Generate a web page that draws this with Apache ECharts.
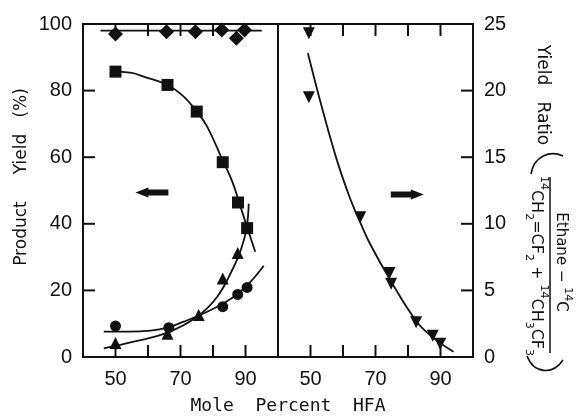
<!DOCTYPE html>
<html>
<head>
<meta charset="utf-8">
<script src="https://cdn.jsdelivr.net/npm/echarts@6/dist/echarts.min.js"></script>
<style>
  html, body { margin: 0; padding: 0; background: #fff; }
  #chart { width: 577px; height: 416px; }
</style>
</head>
<body>
<div id="chart"></div>
<script>
// Left panel: product yield (%) against mole percent HFA
const totalYield = [[50, 97], [65.7, 97.7], [74.6, 97.7], [82.7, 98.2], [87.2, 95.7], [89.7, 98.2]];
const totalYieldLine = [[45.4, 98], [95, 98]];
const squareYield = [[50, 85.7], [66, 81.7], [75, 73.7], [83, 58.5], [87.7, 46.4], [90.5, 38.7]];
const squareCurve = [[48.5, 85.8], [55, 85.3], [58.7, 84.2], [66, 81.7], [71, 78.2], [75, 73.7],
  [78.2, 69.2], [83, 59], [86, 52.5], [88.5, 45], [91, 37.5], [93, 31.6]];
const triangleYield = [[50, 4.2], [66, 7], [75.6, 12.6], [83, 23.6], [87.6, 31.2]];
const triangleCurve = [[46.4, 2.6], [55.6, 4.6], [65.9, 7.3], [75.1, 12.1], [81.3, 18.1],
  [86.4, 27.1], [88.5, 32], [90.3, 38.5], [91, 46]];
const circleYield = [[50, 9.3], [66.4, 8.8], [83, 15.1], [87.6, 18.8], [90.5, 20.9]];
const circleCurve = [[46.4, 7.6], [54, 7.6], [60.8, 7.9], [66, 8.8], [71, 10.6], [76, 12.6],
  [81.3, 15.1], [86.4, 18.1], [91, 22], [95.6, 27.4]];

// Right panel: yield ratio against mole percent HFA
const ratioPoints = [[49.5, 24.3], [49.5, 19.5], [65.3, 10.5], [74.3, 6.3], [74.8, 5.5],
  [82.5, 2.6], [87.6, 1.6], [89.9, 1.0]];
const ratioCurve = [[49.2, 22.8], [52.9, 19.3], [58.1, 14.8], [62.2, 11.9], [65.5, 10.0],
  [68.3, 8.5], [74.5, 5.8], [82.7, 2.65], [88, 1.4], [94, 0.4]];

// Axis ticks and tick labels
const xTickLabels = [50, 70, 90];
const xTickMarks = [50, 60, 70, 80, 90];
const leftYTicks = [0, 20, 40, 60, 80, 100];
const leftYTickMarks = [20, 40, 60, 80];
const rightYTicks = [0, 5, 10, 15, 20, 25];
const rightYTickMarks = [5, 10, 15, 20];

// Direction arrows (which axis each panel reads from)
const leftArrowAt = [61.2, 49.4];
const rightArrowAt = [79.8, 12.2];

const INK = '#111';
const LABEL_FONT = 'Liberation Sans, Arial, sans-serif';
const TICK_PX = 12;
const PANEL_W = 195, PANEL_H = 333;

function xAxisDef(grid, pos, showLabels) {
  return {
    type: 'value', gridIndex: grid, position: pos,
    min: 40, max: 100, interval: 10,
    axisLine: { show: true, lineStyle: { color: INK, width: 2 } },
    splitLine: { show: false },
    axisTick: { show: false },
    axisLabel: {
      show: showLabels, margin: 12, color: INK, fontSize: 20, fontFamily: LABEL_FONT,
      formatter: v => (xTickLabels.indexOf(v) >= 0 ? String(v) : '')
    }
  };
}

function yAxisDef(grid, pos, max, step, ticks) {
  return {
    type: 'value', gridIndex: grid, position: pos,
    min: 0, max: max, interval: step,
    axisLine: { show: true, lineStyle: { color: INK, width: 2 } },
    splitLine: { show: false },
    axisTick: { show: false },
    axisLabel: {
      margin: 11, color: INK, fontSize: 20, fontFamily: LABEL_FONT,
      formatter: v => (ticks.indexOf(v) >= 0 ? String(v) : '')
    }
  };
}

// Inward frame ticks: thin bars anchored on the frame and shifted half a length inside
function tickSeries(xi, yi, data, vertical, offset) {
  return {
    type: 'scatter', xAxisIndex: xi, yAxisIndex: yi, data: data,
    symbol: 'rect', symbolSize: vertical ? [2, TICK_PX] : [TICK_PX, 2],
    symbolOffset: offset, clip: false, silent: true,
    emphasis: { disabled: true },
    itemStyle: { color: INK, opacity: 1 }, z: 1
  };
}

function curve(data, xi, yi, extra) {
  return Object.assign({
    type: 'line', data: data, xAxisIndex: xi, yAxisIndex: yi,
    smooth: 0.4, showSymbol: false, symbol: 'none',
    lineStyle: { color: INK, width: 1.8, opacity: 1 }
  }, extra || {});
}

function points(data, xi, yi, symbol, size, rotate) {
  return {
    type: 'scatter', data: data, xAxisIndex: xi, yAxisIndex: yi,
    symbol: symbol, symbolSize: size, symbolRotate: rotate || 0,
    itemStyle: { color: INK, opacity: 1 }
  };
}

const arrowLeftPath = 'path://M0,5 L13,0 L13,2 L33,2 L33,8 L13,8 L13,10 Z';
const arrowRightPath = 'path://M33,5 L20,0 L20,2 L0,2 L0,8 L20,8 L20,10 Z';

const sup = { fontSize: 11, lineHeight: 11, verticalAlign: 'top', fontFamily: 'DejaVu Sans', fill: INK };
const sub = { fontSize: 11, lineHeight: 11, verticalAlign: 'bottom', fontFamily: 'DejaVu Sans', fill: INK };

const half = TICK_PX / 2;

const chart = echarts.init(document.getElementById('chart'));
chart.setOption({
  animation: false,
  backgroundColor: '#fff',
  grid: [
    { left: 83, top: 24, width: PANEL_W, height: PANEL_H, show: true, borderColor: INK, borderWidth: 2 },
    { left: 278, top: 24, width: PANEL_W, height: PANEL_H, show: true, borderColor: INK, borderWidth: 2 }
  ],
  xAxis: [
    xAxisDef(0, 'bottom', true),
    xAxisDef(0, 'top', false),
    xAxisDef(1, 'bottom', true),
    xAxisDef(1, 'top', false)
  ],
  yAxis: [
    yAxisDef(0, 'left', 100, 20, leftYTicks),
    yAxisDef(1, 'right', 25, 5, rightYTicks)
  ],
  series: [
    // frame ticks, left panel
    tickSeries(0, 0, xTickMarks.map(x => [x, 0]), true, [0, -half]),
    tickSeries(0, 0, xTickMarks.map(x => [x, 100]), true, [0, half]),
    tickSeries(0, 0, leftYTickMarks.map(y => [40, y]), false, [half, 0]),
    // frame ticks, right panel
    tickSeries(2, 1, xTickMarks.map(x => [x, 0]), true, [0, -half]),
    tickSeries(2, 1, xTickMarks.map(x => [x, 25]), true, [0, half]),
    tickSeries(2, 1, rightYTickMarks.map(y => [100, y]), false, [-half, 0]),

    curve(totalYieldLine, 0, 0, {
      smooth: false,
      markPoint: {
        symbol: arrowLeftPath, symbolSize: [33, 10], silent: true,
        itemStyle: { color: INK, opacity: 1 }, label: { show: false },
        data: [{ coord: leftArrowAt }]
      }
    }),
    points(totalYield, 0, 0, 'diamond', 15),
    curve(squareCurve, 0, 0),
    points(squareYield, 0, 0, 'rect', 12),
    curve(triangleCurve, 0, 0),
    points(triangleYield, 0, 0, 'triangle', 12),
    curve(circleCurve, 0, 0),
    points(circleYield, 0, 0, 'circle', 11),
    curve(ratioCurve, 2, 1, {
      markPoint: {
        symbol: arrowRightPath, symbolSize: [33, 10], silent: true,
        itemStyle: { color: INK, opacity: 1 }, label: { show: false },
        data: [{ coord: rightArrowAt }]
      }
    }),
    points(ratioPoints, 2, 1, 'triangle', 12, 180)
  ],
  graphic: [
    {
      type: 'text', x: 22, y: 177, rotation: Math.PI / 2, silent: true,
      style: {
        text: 'Product     Yield   (%)', fontSize: 17, fontFamily: 'DejaVu Sans',
        fill: INK, align: 'center', verticalAlign: 'middle'
      }
    },
    {
      type: 'text', x: 288, y: 406, silent: true,
      style: {
        text: 'Mole  Percent  HFA', fontSize: 18, fontFamily: 'DejaVu Sans Mono',
        fill: INK, align: 'center', verticalAlign: 'middle'
      }
    },
    {
      type: 'text', x: 542, y: 95, rotation: -Math.PI / 2, silent: true,
      style: {
        text: 'Yield   Ratio', fontSize: 17, fontFamily: 'DejaVu Sans',
        fill: INK, align: 'center', verticalAlign: 'middle'
      }
    },
    {
      type: 'text', x: 561, y: 262, rotation: -Math.PI / 2, silent: true,
      style: {
        text: '{b|Ethane − }{sup|14}{b|C}',
        align: 'center', verticalAlign: 'middle',
        rich: {
          b: { fontSize: 15, lineHeight: 24, fontFamily: 'DejaVu Sans', fill: INK },
          sup: sup
        }
      }
    },
    {
      type: 'text', x: 536, y: 266, rotation: -Math.PI / 2, silent: true,
      style: {
        text: '{sup|14}{b|CH}{sub|2}{b|=CF}{sub|2}{b| + }{sup|14}{b|CH}{sub|3}{b|CF}{sub|3}',
        align: 'center', verticalAlign: 'middle',
        rich: {
          b: { fontSize: 16, lineHeight: 26, fontFamily: 'DejaVu Sans', fill: INK },
          sup: sup, sub: sub
        }
      }
    },
    {
      type: 'line', silent: true,
      shape: { x1: 550, y1: 177, x2: 550, y2: 353 },
      style: { stroke: INK, lineWidth: 1.5 }
    },
    {
      type: 'bezierCurve', silent: true,
      shape: { x1: 531, y1: 174, cpx1: 534, cpy1: 156, cpx2: 550, cpy2: 150, x2: 563, y2: 156 },
      style: { stroke: INK, lineWidth: 1.6, fill: null }
    },
    {
      type: 'bezierCurve', silent: true,
      shape: { x1: 527, y1: 356, cpx1: 534, cpy1: 374, cpx2: 553, cpy2: 375, x2: 563, y2: 360 },
      style: { stroke: INK, lineWidth: 1.6, fill: null }
    }
  ]
});
</script>
</body>
</html>
